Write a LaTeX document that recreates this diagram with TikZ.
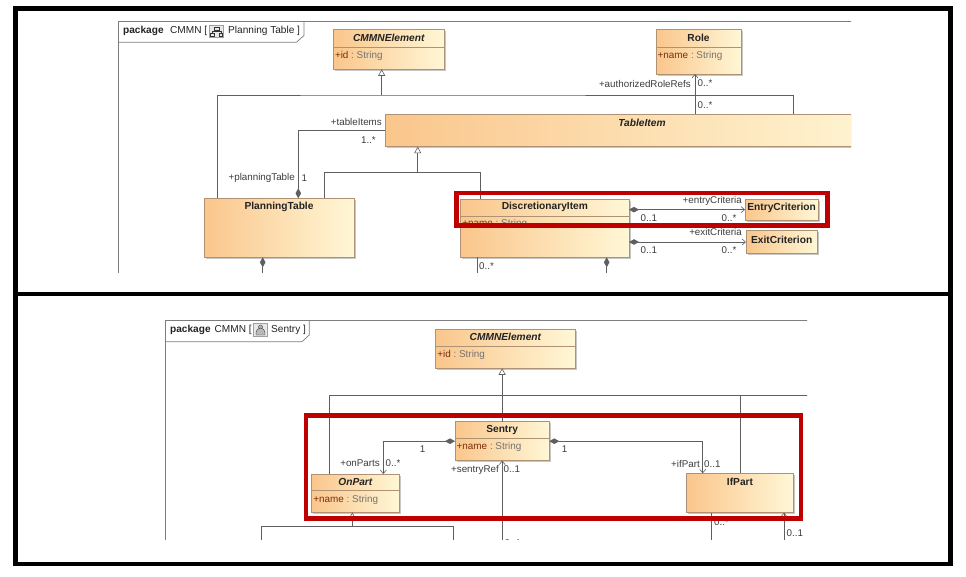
\documentclass[tikz,border=0pt]{standalone}
\usepackage{fontspec}
\setmainfont{Liberation Sans}
\usetikzlibrary{arrows.meta,shadows,calc}
\definecolor{lncol}{RGB}{95,95,95}
\definecolor{txtcol}{RGB}{35,35,35}
\definecolor{lblcol}{RGB}{60,60,60}
\definecolor{attrred}{RGB}{125,45,15}
\definecolor{attrgray}{RGB}{115,115,115}
\definecolor{clsborder}{RGB}{175,145,115}
\definecolor{clsA}{RGB}{250,198,140}
\definecolor{clsB}{RGB}{255,247,214}
\definecolor{redbox}{RGB}{190,0,0}
\definecolor{pkgcol}{RGB}{125,125,125}
\newcommand\clsattr[2]{\textcolor{attrred}{#1}\textcolor{attrgray}{\ :\ #2}}
\begin{document}
\begin{tikzpicture}[x=1pt,y=-1pt,
  cls/.style={draw=clsborder, line width=0.6pt, left color=clsA, right color=clsB,
    anchor=north west, inner sep=0pt, outer sep=0pt,
    drop shadow={shadow xshift=1.6pt, shadow yshift=-1.6pt, fill=black, opacity=0.22}},
  title/.style={font=\fontsize{10.2}{12}\selectfont\bfseries, text=txtcol, inner sep=0pt},
  attr/.style={font=\fontsize{9.9}{12}\selectfont, inner sep=0pt, anchor=west},
  lbl/.style={font=\fontsize{9.8}{12}\selectfont, text=lblcol, inner sep=0pt},
  pkgtxt/.style={font=\fontsize{10.1}{12}\selectfont, text=txtcol, inner sep=0pt, anchor=west},
  divl/.style={draw=clsborder, line width=0.5pt},
  pkg/.style={draw=pkgcol, line width=0.7pt},
  ln/.style={draw=lncol, line width=0.6pt},
  gen/.style={ln, -{Triangle[open, length=6.5pt, width=7pt, fill=white]}},
  assoc/.style={-{Straight Barb[length=3.5pt, width=6pt]}},
  comp/.style={ln, {Diamond[length=10pt, width=5.5pt]}-},
  compassoc/.style={ln, {Diamond[length=10pt, width=5.5pt]}-{Straight Barb[length=3.5pt, width=6pt]}},
  redframe/.style={draw=redbox, line width=4.5pt},
  icon/.style={draw=gray!75, fill=gray!18, line width=0.4pt},
  icong/.style={draw=gray!40!black, line width=0.4pt}
]
\useasboundingbox (0,0) rectangle (966,577);
\fill[white] (0,0) rectangle (966,577);

%% ================= TOP PANEL =================
\begin{scope}
\clip (110,15) rectangle (851,272.5);
\draw[pkg] (118.3,285) -- (118.3,21.7) -- (870,21.7);
\draw[pkg] (118.3,42.2) -- (296.5,42.2) -- (304,35.5) -- (304,21.7);
\node[pkgtxt] (pk1a) at (123,31) {\bfseries package};
\node[pkgtxt] (pk1b) at (170,31) {CMMN [};
\draw[icon] (209.5,25) rectangle (223.5,37.5);
\draw[icong] (214,26.8) rectangle (219,29.8);
\draw[icong] (216.5,29.8) -- (216.5,31.5) (212,31.5) -- (221,31.5) (212,31.5) -- (212,33) (221,31.5) -- (221,33);
\draw[icong] (210.5,33) rectangle (213.8,36.2) (219.2,33) rectangle (222.5,36.2);
\node[pkgtxt] (pk1c) at (228,31) {Planning Table ]};

% classes
\node[cls, minimum width=111pt, minimum height=40pt] (ce1) at (333.3,29.3) {};
\node[title] (ce1t) at ([yshift=-9pt]ce1.north) {\itshape CMMNElement};
\draw[divl] ([yshift=-18pt]ce1.north west) -- ([yshift=-18pt]ce1.north east);
\node[attr] (ce1a) at ([xshift=1.5pt,yshift=-27pt]ce1.north west) {\clsattr{+id}{String}};

\node[cls, minimum width=85pt, minimum height=44.7pt] (role) at (656,29.3) {};
\node[title] (rolet) at ([yshift=-9pt]role.north) {Role};
\draw[divl] ([yshift=-18pt]role.north west) -- ([yshift=-18pt]role.north east);
\node[attr] (rolea) at ([xshift=1.5pt,yshift=-27pt]role.north west) {\clsattr{+name}{String}};

\node[cls, minimum width=514pt, minimum height=32.4pt] (ti) at (385,114.3) {};
\node[title] (tit) at ([yshift=-8.4pt]ti.north) {\itshape TableItem};

\node[cls, minimum width=150pt, minimum height=59pt] (pt) at (204,198.3) {};
\node[title] (ptt) at ([yshift=-9pt]pt.north) {PlanningTable};

\node[cls, minimum width=168.3pt, minimum height=58pt] (di) at (460.7,199.3) {};
\node[title] (dit) at ([yshift=-8pt]di.north) {DiscretionaryItem};
\draw[divl] ([yshift=-16.7pt]di.north west) -- ([yshift=-16.7pt]di.north east);
\node[attr] (dia) at ([xshift=1.5pt,yshift=-24.8pt]di.north west) {\clsattr{+name}{String}};

\node[cls, minimum width=73.3pt, minimum height=20.7pt] (ec) at (745,199.3) {};
\node[title] (ect) at ([yshift=-8.4pt]ec.north) {EntryCriterion};

\node[cls, minimum width=71.3pt, minimum height=22.6pt] (xc) at (746,230.7) {};
\node[title] (xct) at ([yshift=-8.8pt]xc.north) {ExitCriterion};

% connectors
\coordinate (j1) at (381.7,95);
\draw[gen] (j1) -- (j1 |- ce1.south);
\draw[ln] ([xshift=13.3pt]pt.north west) |- (j1) -| ([xshift=408pt]ti.north west);
\draw[ln, assoc] ([xshift=310pt]ti.north west) -- ([xshift=39pt]role.south west);
\draw[comp] ([xshift=94.3pt]pt.north west) |- (ti.west);
\coordinate (j2) at (417.7,172.3);
\draw[gen] (j2) -- (j2 |- ti.south);
\draw[ln] ([xshift=120pt]pt.north west) |- (j2) -| ([xshift=19.3pt]di.north west);
\draw[compassoc] (ec.west -| di.east) -- (ec.west);
\draw[compassoc] (xc.west -| di.east) -- (xc.west);
\coordinate (ptb) at (262.7,285);
\draw[comp] ([xshift=58.7pt]pt.south west) -- (ptb);
\coordinate (dib1) at (477.3,285);
\draw[ln] ([xshift=16.6pt]di.south west) -- (dib1);
\coordinate (dib2) at (606.7,285);
\draw[comp] ([xshift=146pt]di.south west) -- (dib2);

% labels
\node[lbl, anchor=east] (l1) at (691,83.5) {+authorizedRoleRefs};
\node[lbl, anchor=west] (l2) at (697.5,83.5) {0..*};
\node[lbl, anchor=west] (l3) at (697.5,105) {0..*};
\node[lbl, anchor=east] (l4) at (382,122) {+tableItems};
\node[lbl, anchor=east] (l5) at (376,140) {1..*};
\node[lbl, anchor=east] (l6) at (295,178.3) {+planningTable};
\node[lbl, anchor=west] (l7) at (301.5,178.3) {1};
\node[lbl, anchor=east] (l8) at (742,200.5) {+entryCriteria};
\node[lbl, anchor=west] (l9) at (640.5,218.5) {0..1};
\node[lbl, anchor=west] (l10) at (721.5,218.5) {0..*};
\node[lbl, anchor=east] (l11) at (742,231.5) {+exitCriteria};
\node[lbl, anchor=west] (l12) at (640.5,250) {0..1};
\node[lbl, anchor=west] (l13) at (721.5,250) {0..*};
\node[lbl, anchor=west] (l14) at (479,266) {0..*};
\end{scope}
\draw[redframe] (456.3,193) rectangle (827.3,225.3);

%% ================= BOTTOM PANEL =================
\begin{scope}
\clip (160,315) rectangle (807,539.5);
\draw[pkg] (165,550) -- (165,320.7) -- (830,320.7);
\draw[pkg] (165,341.7) -- (302,341.7) -- (309.3,335) -- (309.3,320.7);
\node[pkgtxt] (pk2a) at (170,329.8) {\bfseries package};
\node[pkgtxt] (pk2b) at (214.5,329.8) {CMMN [};
\draw[icon] (253.5,323.5) rectangle (267.5,336.5);
\draw[icong, fill=gray!55] (260.5,327) circle (2pt);
\draw[icong, fill=gray!55] (256,335) -- (256,332.5) arc (180:0:4.5pt) -- (265,335) -- cycle;
\node[pkgtxt] (pk2c) at (271,329.8) {Sentry ]};

\node[cls, minimum width=139.3pt, minimum height=39.3pt] (ce2) at (435.7,329) {};
\node[title] (ce2t) at ([yshift=-8.3pt]ce2.north) {\itshape CMMNElement};
\draw[divl] ([yshift=-17.7pt]ce2.north west) -- ([yshift=-17.7pt]ce2.north east);
\node[attr] (ce2a) at ([xshift=1.5pt,yshift=-26pt]ce2.north west) {\clsattr{+id}{String}};

\node[cls, minimum width=94.3pt, minimum height=39pt] (se) at (455,421.7) {};
\node[title] (set) at ([yshift=-8.3pt]se.north) {Sentry};
\draw[divl] ([yshift=-16.6pt]se.north west) -- ([yshift=-16.6pt]se.north east);
\node[attr] (sea) at ([xshift=1.5pt,yshift=-25.6pt]se.north west) {\clsattr{+name}{String}};

\node[cls, minimum width=87.3pt, minimum height=38.3pt] (op) at (311.7,474) {};
\node[title] (opt) at ([yshift=-8.3pt]op.north) {\itshape OnPart};
\draw[divl] ([yshift=-16.7pt]op.north west) -- ([yshift=-16.7pt]op.north east);
\node[attr] (opa) at ([xshift=1.5pt,yshift=-26pt]op.north west) {\clsattr{+name}{String}};

\node[cls, minimum width=106.6pt, minimum height=39.4pt] (ip) at (686.7,473.3) {};
\node[title] (ipt) at ([yshift=-9pt]ip.north) {IfPart};

% connectors
\draw[gen] (se.north) -- (se.north |- ce2.south);
\coordinate (jr) at (830,395);
\draw[ln] ([xshift=17.6pt]op.north west) |- (jr);
\draw[ln] (ip.north) -- (ip.north |- jr);
\draw[compassoc] (se.west) -| ([xshift=71.6pt]op.north west);
\draw[compassoc] (se.east) -| ([xshift=16pt]ip.north west);
\coordinate (sb) at (502.15,550);
\draw[ln, assoc] (sb) -- (se.south);
\coordinate (j4) at (352.3,526.7);
\draw[gen] (j4) -- (j4 |- op.south);
\coordinate (opl) at (261.7,550);
\coordinate (opr) at (453.3,550);
\draw[ln] (opl) |- (j4) -| (opr);
\coordinate (ipb1) at (711.7,550);
\draw[ln] ([xshift=25pt]ip.south west) -- (ipb1);
\coordinate (ipb2) at (784,550);
\draw[ln, assoc] (ipb2) -- ([xshift=97.3pt]ip.south west);

% labels
\node[lbl] (m1) at (422.7,449.3) {1};
\node[lbl, anchor=east] (m2) at (380,463.5) {+onParts};
\node[lbl, anchor=west] (m3) at (385.5,463.5) {0..*};
\node[lbl, anchor=east] (m4) at (499,469.5) {+sentryRef};
\node[lbl, anchor=west] (m5) at (503.5,469.5) {0..1};
\node[lbl] (m6) at (564.7,449.3) {1};
\node[lbl, anchor=east] (m7) at (700,464) {+ifPart};
\node[lbl, anchor=west] (m8) at (704,464) {0..1};
\node[lbl, anchor=west] (m9) at (714,522.5) {0..*};
\node[lbl, anchor=west] (m10) at (786.5,533) {0..1};
\node[lbl, anchor=west] (m11) at (504.5,543) {0..1};
\end{scope}
\draw[redframe] (306,415.7) rectangle (801,518.7);

%% ================= OUTER FRAMES =================
\draw[line width=4.5pt, black] (15.3,8.7) rectangle (950.5,564);
\draw[line width=4.5pt, black] (15.3,294) -- (950.5,294);
\end{tikzpicture}
\end{document}
